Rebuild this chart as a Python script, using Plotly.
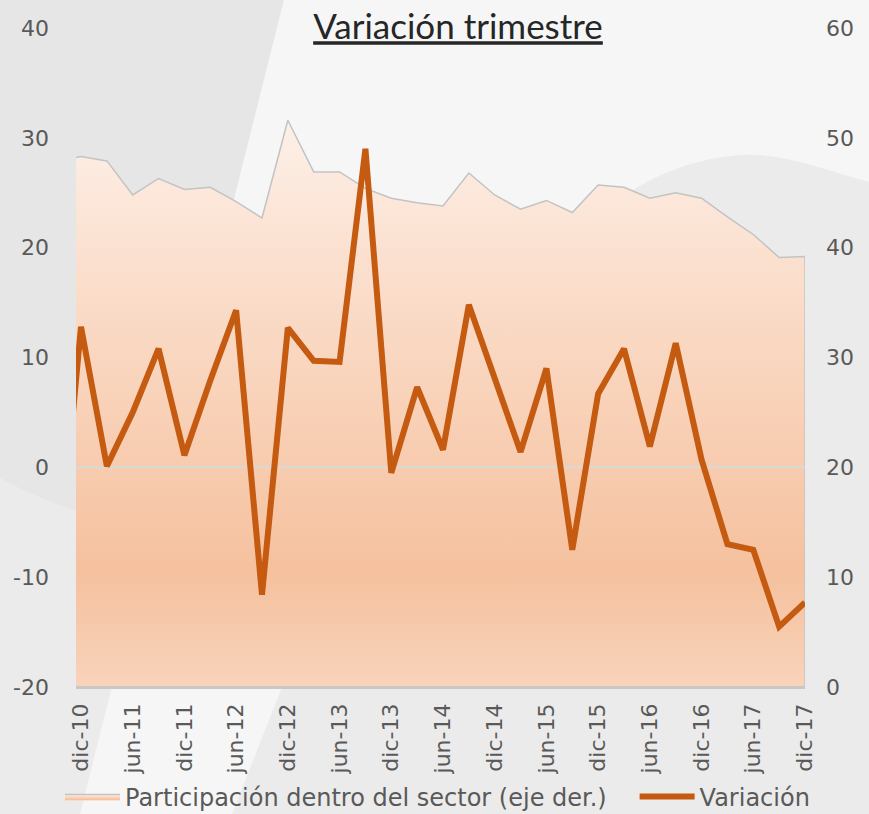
import plotly.graph_objects as go

# ---------------- data ----------------
categorias = [
    "sep-10", "dic-10",
    "mar-11", "jun-11", "sep-11", "dic-11",
    "mar-12", "jun-12", "sep-12", "dic-12",
    "mar-13", "jun-13", "sep-13", "dic-13",
    "mar-14", "jun-14", "sep-14", "dic-14",
    "mar-15", "jun-15", "sep-15", "dic-15",
    "mar-16", "jun-16", "sep-16", "dic-16",
    "mar-17", "jun-17", "sep-17", "dic-17",
]

participacion = [
    47.8, 48.3,
    47.9, 44.8, 46.3, 45.3,
    45.5, 44.2, 42.7, 51.6,
    46.9, 46.9, 45.4, 44.5,
    44.1, 43.8, 46.8, 44.8,
    43.5, 44.3, 43.2, 45.7,
    45.5, 44.5, 45.0, 44.5,
    42.8, 41.2, 39.1, 39.2,
]

variacion = [
    -12.5, 12.8,
    0.1, 5.0, 10.8, 1.1,
    7.9, 14.3, -11.6, 12.7,
    9.7, 9.6, 29.0, -0.5,
    7.3, 1.6, 14.8, 8.1,
    1.4, 9.0, -7.5, 6.7,
    10.8, 1.9, 11.3, 0.7,
    -7.0, -7.5, -14.5, -12.3,
]

etiquetas_x = [
    "dic-10", "jun-11", "dic-11", "jun-12", "dic-12", "jun-13", "dic-13",
    "jun-14", "dic-14", "jun-15", "dic-15", "jun-16", "dic-16", "jun-17", "dic-17",
]

ticks_izq = [-20, -10, 0, 10, 20, 30, 40]
etiquetas_izq = ["-20", "-10", "0", "10", "20", "30", "40"]
ticks_der = [0, 10, 20, 30, 40, 50, 60]
etiquetas_der = ["0", "10", "20", "30", "40", "50", "60"]

titulo = "Variación trimestre"
nombre_area = "Participación dentro del sector (eje der.)"
nombre_linea = "Variación"

# ---------------- layout geometry (pixels) ----------------
W, H = 869, 814
PL, PR, PT, PB = 76, 805, 28, 687   # plot area edges


def px(x, y):
    """pixel -> paper coordinates (for background decoration only)"""
    return (x - PL) / (PR - PL), (PB - y) / (PB - PT)


def path(cmds):
    out = []
    for c in cmds:
        op = c[0]
        pts = c[1:]
        coords = []
        for i in range(0, len(pts), 2):
            xf, yf = px(pts[i], pts[i + 1])
            coords.append(f"{xf:.4f},{yf:.4f}")
        out.append(op + " " + " ".join(coords))
    return " ".join(out) + " Z"


fig = go.Figure()

# area (right axis, main y)
fig.add_trace(go.Scatter(
    x=categorias + [categorias[-1], categorias[0]],
    y=participacion + [0, 0],
    name=nombre_area + "\u00a0\u00a0\u00a0",
    mode="lines",
    fill="toself",
    line=dict(color="#c3c3c3", width=1.5),
    fillgradient=dict(
        type="vertical",
        start=0, stop=52,
        colorscale=[
            [0.0, "#f8d3bb"],
            [0.2, "#f5c19e"],
            [0.45, "#f8cfb4"],
            [0.75, "#fbe0cf"],
            [1.0, "#fdf1e9"],
        ],
    ),
    yaxis="y",
    hoverinfo="skip",
))

# zero reference line (left axis) drawn over area, under the series line
fig.add_trace(go.Scatter(
    x=[categorias[0], categorias[-1]],
    y=[0, 0],
    mode="lines",
    line=dict(color="#d9d9d9", width=2),
    showlegend=False,
    hoverinfo="skip",
    yaxis="y2",
))

fig.add_trace(go.Scatter(
    x=categorias,
    y=variacion,
    name=nombre_linea,
    mode="lines",
    line=dict(color="#c55a11", width=6),
    yaxis="y2",
))

# ---------------- background decoration ----------------
shapes = [
    dict(type="path", xref="paper", yref="paper", layer="below",
         path=path([("M", 0, 0), ("L", 284, 0), ("L", 150, 530),
                    ("C", 110, 525, 50, 505, 0, 478)]),
         fillcolor="#e6e6e6", line=dict(width=0)),
    dict(type="path", xref="paper", yref="paper", layer="below",
         path=path([("M", 284, 0), ("L", W, 0), ("L", W, 182),
                    ("C", 820, 168, 780, 152, 740, 155),
                    ("C", 700, 158, 660, 172, 630, 192),
                    ("L", 282, 687), ("L", 232, H), ("L", 80, H)]),
         fillcolor="#f6f6f6", line=dict(width=0)),
]

tick_font = dict(family="DejaVu Sans", size=22, color="#595959")

fig.update_layout(
    width=W, height=H,
    margin=dict(l=PL, r=W - PR, t=PT, b=H - PB, pad=0, autoexpand=False),
    paper_bgcolor="#ebebeb",
    plot_bgcolor="rgba(0,0,0,0)",
    shapes=shapes,
    title=dict(
        text="<u>" + titulo + "</u>",
        x=(458 - PL) / (PR - PL), xref="paper", xanchor="center",
        y=1 - 27 / H, yref="container", yanchor="middle",
        font=dict(family="Lato", size=35, color="#262626"),
    ),
    xaxis=dict(
        type="category",
        categoryorder="array", categoryarray=categorias,
        range=[0.807, len(categorias) - 1],
        tickmode="array", tickvals=etiquetas_x, ticktext=etiquetas_x,
        tickangle=-90,
        tickfont=tick_font,
        ticks="", showgrid=False, zeroline=False,
        showline=True, linecolor="#c8c8c8", linewidth=1.5,
        ticklabelstandoff=6, automargin=False,
    ),
    yaxis=dict(
        side="right",
        range=[0, 60],
        tickmode="array", tickvals=ticks_der, ticktext=etiquetas_der,
        tickfont=tick_font,
        showgrid=False, zeroline=False, showline=False, ticks="",
        ticklabelstandoff=20, automargin=False,
    ),
    yaxis2=dict(
        overlaying="y", side="left",
        range=[-20, 40],
        tickmode="array", tickvals=ticks_izq, ticktext=etiquetas_izq,
        tickfont=tick_font,
        showgrid=False, zeroline=False, showline=False, ticks="",
        ticklabelstandoff=26, automargin=False,
    ),
    legend=dict(
        orientation="h",
        x=(60 - PL) / (PR - PL), xanchor="left",
        y=(PB - 797) / (PB - PT), yanchor="middle",
        font=dict(family="DejaVu Sans", size=24, color="#595959"),
        bgcolor="rgba(0,0,0,0)",
        itemwidth=55,
        traceorder="normal",
    ),
    showlegend=True,
)

fig.write_html(
    "out.html",
    config={"displayModeBar": False},
    post_script="document.body.style.margin='0';document.body.style.overflow='hidden';",
)
